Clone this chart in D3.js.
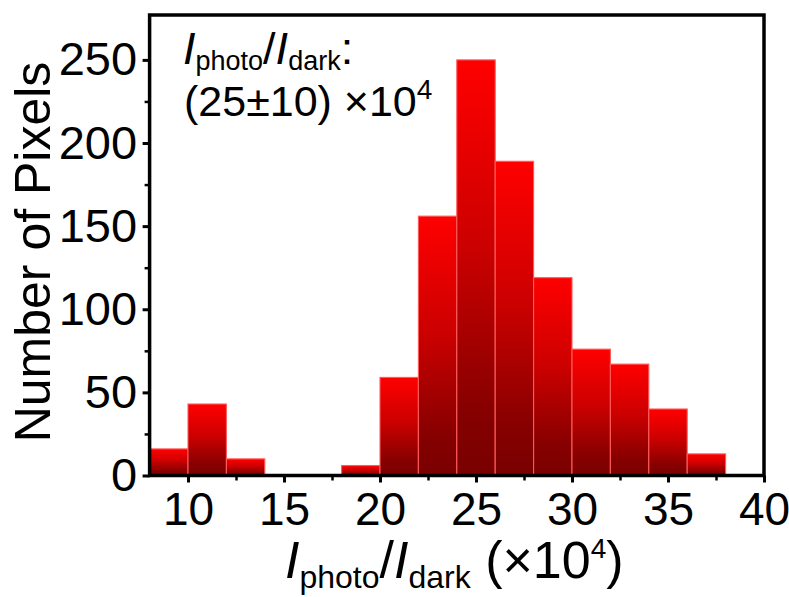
<!DOCTYPE html>
<html>
<head>
<meta charset="utf-8">
<script src="https://cdn.jsdelivr.net/npm/d3@7"></script>
<style>
  html, body { margin: 0; padding: 0; background: #fff; }
  svg { display: block; font-family: "Liberation Sans", Arial, sans-serif; }
</style>
</head>
<body>
<svg id="chart" width="789" height="597"></svg>
<script>
// Histogram of on/off current ratios (bins of width 2, in units of 10^4)
const binStarts = [8, 10, 12, 14, 16, 18, 20, 22, 24, 26, 28, 30, 32, 34, 36];
const binWidth = 2;
const counts = [16, 43, 10, 0, 0, 6, 59, 156, 250, 189, 119, 76, 67, 40, 13];

const xDomain = [8, 40];
const yDomain = [0, 277];
const xTicks = [10, 15, 20, 25, 30, 35, 40];
const xMinorTicks = [12.5, 17.5, 22.5, 27.5, 32.5, 37.5];
const yTicks = [0, 50, 100, 150, 200, 250];
const yMinorTicks = [25, 75, 125, 175, 225];

const svg = d3.select("#chart");
const x = d3.scaleLinear().domain(xDomain).range([149.6, 764]);
const y = d3.scaleLinear().domain(yDomain).range([475.5, 15]);

// vertical red-to-dark-red fill, applied per bar
const grad = svg.append("defs").append("linearGradient")
  .attr("id", "barFill").attr("x1", 0).attr("y1", 0).attr("x2", 0).attr("y2", 1);
[[0, "#ff0000"], [0.45, "#cc0000"], [0.85, "#860000"], [1, "#7a0000"]].forEach(([o, c]) =>
  grad.append("stop").attr("offset", o).attr("stop-color", c));

const bins = binStarts.map((s, i) => ({ x0: s, x1: s + binWidth, n: counts[i] }))
  .filter(d => d.n > 0);

svg.append("g").selectAll("rect").data(bins).join("rect")
  .attr("x", d => x(d.x0))
  .attr("y", d => y(d.n))
  .attr("width", d => x(d.x1) - x(d.x0))
  .attr("height", d => y(0) - y(d.n))
  .attr("fill", "url(#barFill)")
  .attr("stroke", "#ff5a5a")
  .attr("stroke-width", 1.1);

// axes: ticks point outward
function styleAxis(g, width, fontSize) {
  g.select(".domain").remove();
  g.selectAll(".tick line").attr("stroke", "#000").attr("stroke-width", width);
  g.selectAll(".tick text").attr("fill", "#000").attr("font-size", fontSize)
    .attr("font-family", "'Liberation Sans', Arial, sans-serif");
}

svg.append("g").attr("transform", `translate(0,${y(0)})`)
  .call(d3.axisBottom(x).tickValues(xTicks).tickSize(7).tickPadding(10).tickFormat(d3.format("d")))
  .call(g => styleAxis(g, 3, 46));
svg.append("g").attr("transform", `translate(0,${y(0)})`)
  .call(d3.axisBottom(x).tickValues(xMinorTicks).tickSize(5).tickFormat(""))
  .call(g => styleAxis(g, 2.5, 0));

svg.append("g").attr("transform", `translate(${x(8)},0)`)
  .call(d3.axisLeft(y).tickValues(yTicks).tickSize(7).tickPadding(5.5).tickFormat(d3.format("d")))
  .call(g => styleAxis(g, 3, 47));
svg.append("g").attr("transform", `translate(${x(8)},0)`)
  .call(d3.axisLeft(y).tickValues(yMinorTicks).tickSize(5).tickFormat(""))
  .call(g => styleAxis(g, 2.5, 0));

// frame
svg.append("rect")
  .attr("x", x(xDomain[0])).attr("y", y(yDomain[1]))
  .attr("width", x(xDomain[1]) - x(xDomain[0]))
  .attr("height", y(yDomain[0]) - y(yDomain[1]))
  .attr("fill", "none").attr("stroke", "#000").attr("stroke-width", 3.5);

// y axis title
svg.append("text")
  .attr("transform", "translate(50,252) rotate(-90)")
  .attr("text-anchor", "middle")
  .attr("font-size", 50)
  .attr("fill", "#000")
  .text("Number of Pixels");

// x axis title: I_photo/I_dark (×10^4)
const xt = svg.append("text").attr("x", 285).attr("y", 578).attr("font-size", 52).attr("fill", "#000");
xt.append("tspan").attr("font-style", "italic").text("I");
xt.append("tspan").attr("font-size", 32).attr("dy", 10).text("photo");
xt.append("tspan").attr("dy", -10).text("/");
xt.append("tspan").attr("font-style", "italic").text("I");
xt.append("tspan").attr("font-size", 32).attr("dy", 10).text("dark");
xt.append("tspan").attr("dy", -10).text(" (×10");
xt.append("tspan").attr("font-size", 28).attr("dy", -20).text("4");
xt.append("tspan").attr("dy", 20).text(")");

// annotation
const a1 = svg.append("text").attr("x", 183).attr("y", 64).attr("font-size", 45).attr("fill", "#000");
a1.append("tspan").attr("font-style", "italic").text("I");
a1.append("tspan").attr("font-size", 27).attr("dy", 6).text("photo");
a1.append("tspan").attr("dy", -6).text("/");
a1.append("tspan").attr("font-style", "italic").text("I");
a1.append("tspan").attr("font-size", 27).attr("dy", 6).text("dark");
a1.append("tspan").attr("dy", -6).text(":");

const a2 = svg.append("text").attr("x", 184).attr("y", 116).attr("font-size", 43).attr("fill", "#000");
a2.append("tspan").text("(25±10) ×10");
a2.append("tspan").attr("font-size", 28).attr("dy", -17).text("4");
</script>
</body>
</html>
